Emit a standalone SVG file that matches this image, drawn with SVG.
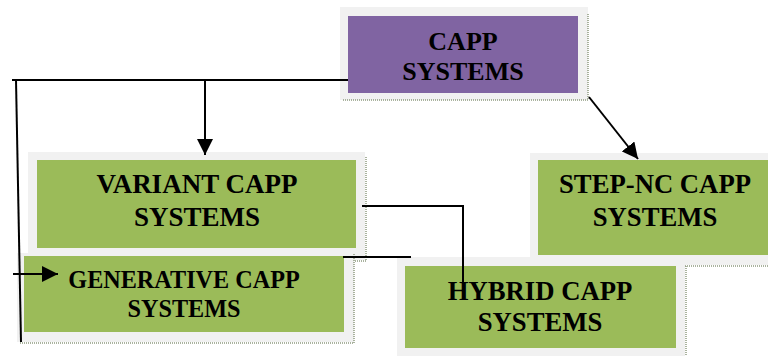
<svg xmlns="http://www.w3.org/2000/svg" width="768" height="356" viewBox="0 0 768 356">
  <defs>
    <marker id="arrowBig" viewBox="0 0 10 10" refX="10" refY="5" markerWidth="16" markerHeight="16" markerUnits="userSpaceOnUse" orient="auto">
      <path d="M0,0 L10,5 L0,10 z" fill="#000"/>
    </marker>
  </defs>
  <style>
    .frame { fill: #f1f1f1; }
    .green { fill: #9bbb59; }
    .purple { fill: #8064a2; }
    .edge { fill: none; stroke: #8f9a80; stroke-width: 1.5; stroke-dasharray: 1 1; }
    .label { font-family: "Liberation Serif", "Times New Roman", serif; font-weight: bold; fill: #000; text-anchor: middle; }
    .conn { fill: none; stroke: #000; stroke-width: 2; }
  </style>
  <rect width="768" height="356" fill="#fff"/>

  <!-- root node -->
  <g id="capp">
    <rect class="frame" x="340" y="7" width="248" height="93"/>
    <polyline class="edge" points="588,14 588,100 342,100"/>
    <rect class="purple" x="348" y="16" width="230" height="77"/>
    <text class="label" x="463" y="50" font-size="26">CAPP</text>
    <text class="label" x="463" y="80" font-size="26">SYSTEMS</text>
  </g>

  <g id="variant">
    <rect class="frame" x="28" y="152" width="337" height="108"/>
    <polyline class="edge" points="366,157 366,261 352,261"/>
    <rect class="green" x="37" y="160" width="319" height="88"/>
    <text class="label" x="197" y="193" font-size="27">VARIANT CAPP</text>
    <text class="label" x="197" y="226" font-size="27">SYSTEMS</text>
  </g>

  <g id="step-nc">
    <rect class="frame" x="530" y="153" width="238" height="112"/>
    <line class="edge" x1="533" y1="266" x2="768" y2="266"/>
    <rect class="green" x="538" y="160" width="230" height="95"/>
    <text class="label" x="655" y="193" font-size="26.7">STEP-NC CAPP</text>
    <text class="label" x="655" y="226" font-size="26.7">SYSTEMS</text>
  </g>

  <g id="generative">
    <rect class="frame" x="17" y="253" width="337" height="89"/>
    <polyline class="edge" points="354,254 354,343 20,343"/>
    <rect class="green" x="24" y="256" width="320" height="76"/>
    <text class="label" x="184" y="288" font-size="24.2">GENERATIVE CAPP</text>
    <text class="label" x="184" y="317" font-size="24.2">SYSTEMS</text>
  </g>

  <g id="hybrid">
    <rect class="frame" x="397" y="257" width="288" height="99"/>
    <line class="edge" x1="686" y1="266" x2="686" y2="356"/>
    <rect class="green" x="405" y="266" width="271" height="82"/>
    <text class="label" x="540" y="300" font-size="26.7">HYBRID CAPP</text>
    <text class="label" x="540" y="331" font-size="26.7">SYSTEMS</text>
  </g>

  <!-- connectors -->
  <g id="connectors">
    <line class="conn" x1="12" y1="80" x2="348" y2="80"/>
    <line class="conn" x1="16" y1="80" x2="21" y2="342"/>
    <line class="conn" x1="205" y1="80" x2="205" y2="155" marker-end="url(#arrowBig)"/>
    <line class="conn" x1="13" y1="274" x2="58" y2="274" marker-end="url(#arrowBig)"/>
    <line class="conn" x1="589" y1="97" x2="638" y2="159" marker-end="url(#arrowBig)"/>
    <polyline class="conn" points="362,206 463,206 463,282"/>
    <line class="conn" x1="343" y1="257" x2="411" y2="257"/>
  </g>
</svg>
